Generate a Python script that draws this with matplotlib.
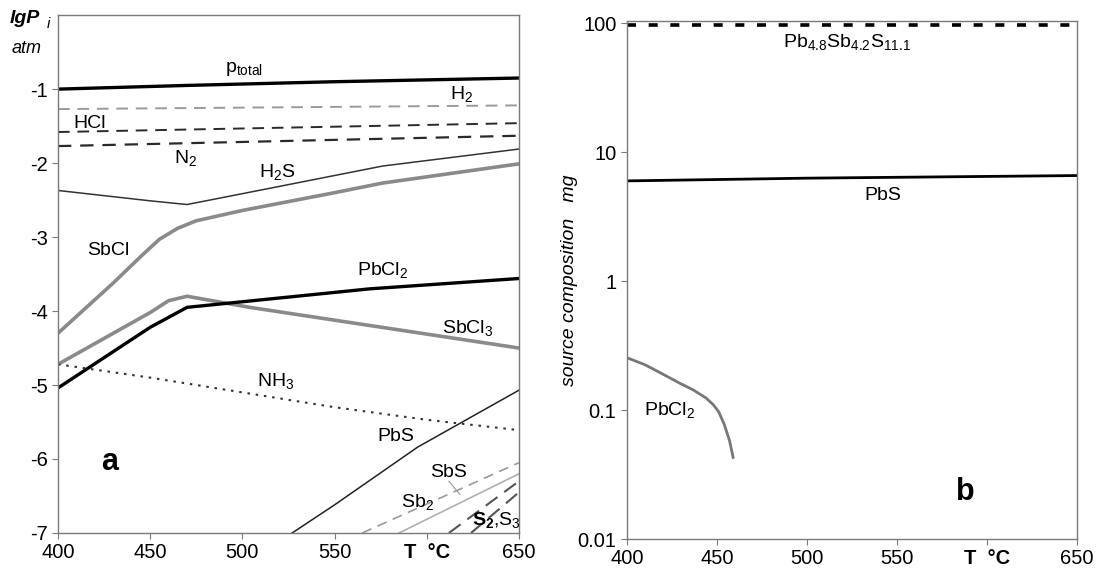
import matplotlib
matplotlib.use("Agg")
import matplotlib.pyplot as plt

plt.rcParams['font.family'] = ['Liberation Sans', 'DejaVu Sans']
plt.rcParams['mathtext.fontset'] = 'custom'
plt.rcParams['mathtext.rm'] = 'Liberation Sans'
plt.rcParams['mathtext.it'] = 'Liberation Sans:italic'
plt.rcParams['mathtext.bf'] = 'Liberation Sans:bold'
plt.rcParams['axes.unicode_minus'] = False

# ---------------- data: panel a (lg P_i, atm) ----------------
T_ptotal = [400, 470, 550, 650]
p_total = [-1.0, -0.95, -0.9, -0.85]
T_gas = [400, 650]
H2 = [-1.27, -1.22]
HCl = [-1.58, -1.46]
N2 = [-1.77, -1.63]
T_H2S = [400, 450, 470, 517, 576, 650]
H2S = [-2.37, -2.51, -2.56, -2.33, -2.04, -1.81]
T_SbCl = [400, 430, 445, 455, 465, 475, 500, 550, 576, 650]
SbCl = [-4.3, -3.62, -3.26, -3.03, -2.88, -2.78, -2.64, -2.4, -2.27, -2.01]
T_SbCl3 = [400, 450, 460, 470, 504, 650]
SbCl3 = [-4.72, -4.02, -3.86, -3.8, -3.95, -4.5]
T_PbCl2 = [400, 450, 470, 569, 650]
PbCl2 = [-5.04, -4.22, -3.95, -3.70, -3.56]
T_NH3 = [400, 450, 500, 550, 600, 650]
NH3 = [-4.72, -4.9, -5.1, -5.3, -5.47, -5.61]
T_PbS = [527, 550, 595, 650]
PbS = [-7.0, -6.62, -5.84, -5.07]
T_Sb2 = [565, 650]
Sb2 = [-7.0, -6.05]
T_SbS = [585, 650]
SbS = [-7.0, -6.2]
T_S2 = [612, 650]
S2 = [-7.0, -6.3]
T_S3 = [624, 650]
S3 = [-7.0, -6.45]

# ---------------- data: panel b (source composition, mg) ----------------
T_src = [400, 650]
Pb48Sb42S111 = [98, 98]
T_PbS_src = [400, 500, 650]
PbS_src = [6.0, 6.3, 6.6]
T_PbCl2_src = [400, 410, 420, 430, 437, 444, 448, 451, 454, 457, 459]
PbCl2_src = [0.255, 0.225, 0.19, 0.16, 0.143, 0.124, 0.11, 0.097, 0.078, 0.058, 0.043]

x_ticks = [400, 450, 500, 550, 600, 650]
x_labels = ['400', '450', '500', '550', 'T  °C', '650']

GRAY = '#8a8a8a'
SPINE = '#7a7a7a'

fig = plt.figure(figsize=(10.96, 5.76), dpi=100)
axa = fig.add_axes([0.0529, 0.0747, 0.4206, 0.899])
axb = fig.add_axes([0.572, 0.0642, 0.4106, 0.899])

def style(ax):
    for s in ax.spines.values():
        s.set_color(SPINE)
        s.set_linewidth(1.0)
    ax.tick_params(direction='out', length=4, color=SPINE, labelsize=14.5,
                   top=False, right=False)
    ax.set_xticks(x_ticks)
    ax.set_xticklabels(x_labels)
    ax.get_xticklabels()[4].set_fontweight('bold')
    ax.set_xlim(400, 650)

# ---- panel a ----
axa.plot(T_ptotal, p_total, color='black', lw=2.4)
axa.plot(T_gas, H2, color='#9a9a9a', lw=1.4, dashes=(6, 4))
axa.plot(T_gas, HCl, color='#2a2a2a', lw=1.4, dashes=(6, 4))
axa.plot(T_gas, N2, color='#2a2a2a', lw=1.6, dashes=(6, 4))
axa.plot(T_H2S, H2S, color='#333333', lw=1.1)
axa.plot(T_SbCl, SbCl, color=GRAY, lw=2.6)
axa.plot(T_SbCl3, SbCl3, color=GRAY, lw=2.6)
axa.plot(T_PbCl2, PbCl2, color='black', lw=2.4)
axa.plot(T_NH3, NH3, color='#333333', lw=1.5, dashes=(1.2, 2.8))
axa.plot(T_PbS, PbS, color='#222222', lw=1.1)
axa.plot(T_Sb2, Sb2, color='#9a9a9a', lw=1.2, dashes=(6, 4))
axa.plot(T_SbS, SbS, color='#b0b0b0', lw=1.2)
axa.plot(T_S2, S2, color='#555555', lw=1.5, dashes=(7, 4))
axa.plot(T_S3, S3, color='#555555', lw=1.5, dashes=(7, 4))
axa.set_ylim(-7, 0)
axa.set_yticks([-1, -2, -3, -4, -5, -6, -7])
style(axa)

lab = dict(fontsize=14, ha='center', va='center')
axa.text(501, -0.73, r'p$_{\mathrm{total}}$', **lab)
axa.text(619, -1.07, r'H$_2$', **lab)
axa.text(417, -1.46, 'HCl', **lab)
axa.text(469, -1.93, r'N$_2$', **lab)
axa.text(519, -2.12, r'H$_2$S', **lab)
axa.text(427, -3.18, 'SbCl', **lab)
axa.text(576, -3.45, r'PbCl$_2$', **lab)
axa.text(622, -4.23, r'SbCl$_3$', **lab)
axa.text(518, -4.94, r'NH$_3$', **lab)
axa.text(583, -5.70, 'PbS', **lab)
axa.text(612, -6.18, 'SbS', **lab)
axa.text(595, -6.58, r'Sb$_2$', **lab)
axa.text(638, -6.82, r'$\mathbf{S}_\mathbf{2}$,S$_3$', **lab)
axa.text(428, -6.04, 'a', fontsize=22, fontweight='bold', ha='center', va='center')
axa.plot([612, 618], [-6.3, -6.48], color='#999999', lw=0.8)

fig.text(0.009, 0.968, 'lgP', fontsize=14, fontweight='bold', fontstyle='italic',
         ha='left', va='center')
fig.text(0.043, 0.958, 'i', fontsize=11, fontstyle='italic', ha='left', va='center')
fig.text(0.011, 0.915, 'atm', fontsize=13, fontstyle='italic', ha='left', va='center')

# ---- panel b ----
axb.set_yscale('log')
axb.plot(T_src, Pb48Sb42S111, color='black', lw=2.6, dashes=(2.5, 3.5), clip_on=False)
axb.plot(T_PbS_src, PbS_src, color='black', lw=2)
axb.plot(T_PbCl2_src, PbCl2_src, color='#777777', lw=2)
axb.set_ylim(0.01, 104)
axb.set_yticks([0.01, 0.1, 1, 10, 100])
axb.set_yticklabels(['0.01', '0.1', '1', '10', '100'])
axb.minorticks_off()
style(axb)
axb.set_ylabel('source composition   mg', fontsize=14, fontstyle='italic')
axb.yaxis.set_label_coords(-0.108, 0.5)

axb.text(522, 72, r'Pb$_{4.8}$Sb$_{4.2}$S$_{11.1}$', **lab)
axb.text(542, 4.6, 'PbS', **lab)
axb.text(424, 0.1, r'PbCl$_2$', **lab)
axb.text(588, 0.023, 'b', fontsize=22, fontweight='bold', ha='center', va='center')

fig.savefig('out.png', dpi=100)
